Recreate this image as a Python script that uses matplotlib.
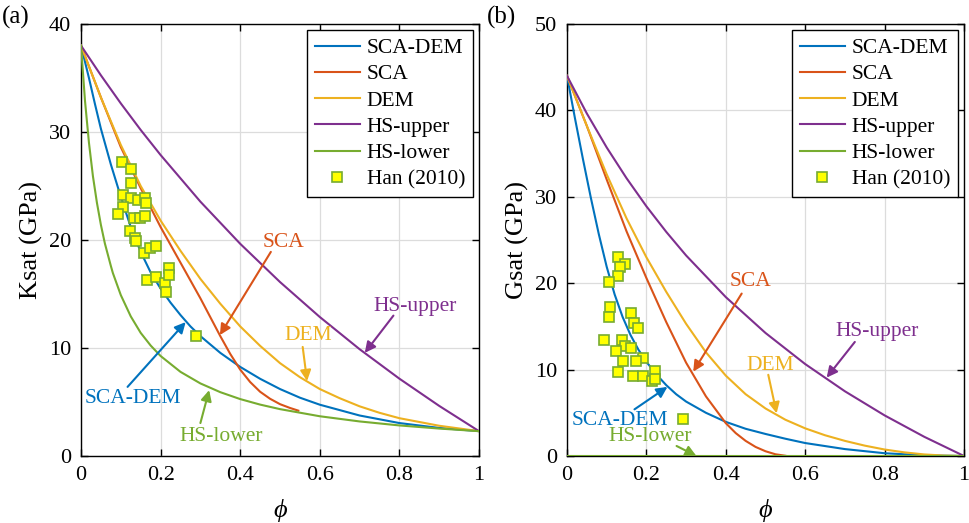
import numpy as np
import matplotlib
matplotlib.use('Agg')
import matplotlib.pyplot as plt

plt.rcParams['font.family'] = ['Liberation Serif', 'DejaVu Serif']
plt.rcParams['mathtext.fontset'] = 'stix'

# colours (MATLAB default order)
C_BLUE = '#0072BD'
C_RED = '#D95319'
C_ORANGE = '#EDB120'
C_PURPLE = '#7E2F8E'
C_GREEN = '#77AC30'

# ---------------- (a) Ksat ----------------
phi_k_scadem = [0, 0.01, 0.02, 0.035, 0.05, 0.075, 0.1, 0.125, 0.15, 0.175, 0.2, 0.225, 0.25, 0.275,
                0.3, 0.35, 0.4, 0.45, 0.5, 0.55, 0.6, 0.7, 0.8, 0.9, 1.0]
k_scadem = [38, 36.5, 35.0, 32.6, 30.3, 27.0, 24.0, 21.2, 18.9, 17.0, 15.5, 14.2, 13.05, 12.0,
            11.1, 9.55, 8.25, 7.15, 6.2, 5.4, 4.75, 3.75, 3.05, 2.6, 2.3]

phi_k_sca = [0, 0.05, 0.1, 0.15, 0.2, 0.25, 0.3, 0.35, 0.375, 0.4, 0.425, 0.45, 0.475, 0.5, 0.525, 0.546]
k_sca = [38, 33.2, 28.6, 24.8, 21.2, 17.9, 14.6, 11.1, 9.45, 8.0, 6.85, 5.95, 5.3, 4.8, 4.45, 4.2]

phi_k_dem = [0, 0.05, 0.1, 0.15, 0.2, 0.25, 0.3, 0.35, 0.4, 0.45, 0.5, 0.55, 0.6, 0.65, 0.7, 0.75,
             0.8, 0.9, 1.0]
k_dem = [38, 33.2, 28.8, 25.0, 21.8, 19.0, 16.4, 14.1, 12.0, 10.2, 8.6, 7.3, 6.2, 5.35, 4.6, 4.0,
         3.5, 2.8, 2.3]

phi_k_hsu = [0, 0.05, 0.1, 0.15, 0.2, 0.3, 0.4, 0.5, 0.6, 0.7, 0.8, 0.9, 1.0]
k_hsu = [38, 35.25, 32.65, 30.19, 27.87, 23.55, 19.65, 16.11, 12.87, 9.89, 7.16, 4.64, 2.3]

phi_k_hsl = [0, 0.01, 0.02, 0.03, 0.04, 0.05, 0.06, 0.075, 0.08, 0.1, 0.125, 0.15, 0.175, 0.2, 0.25,
             0.3, 0.35, 0.4, 0.45, 0.5, 0.6, 0.7, 0.8, 0.9, 1.0]
k_hsl = [38, 32.9, 29.0, 25.9, 23.45, 21.4, 19.68, 17.6, 16.95, 14.9, 12.93, 11.4, 10.23, 9.26, 7.79,
         6.72, 5.91, 5.27, 4.76, 4.34, 3.68, 3.20, 2.83, 2.54, 2.3]

han_phi_k = [0.102, 0.126, 0.126, 0.106, 0.126, 0.144, 0.161, 0.163, 0.106, 0.092, 0.134, 0.148, 0.161,
             0.123, 0.136, 0.138, 0.158, 0.173, 0.188, 0.167, 0.188, 0.211, 0.222, 0.222, 0.214, 0.289]
han_k = [27.25, 26.6, 25.25, 24.2, 23.86, 23.7, 23.86, 23.4, 23.1, 22.4, 22.07, 22.0, 22.2,
         20.8, 20.2, 19.9, 18.8, 19.23, 19.4, 16.3, 16.6, 16.05, 17.4, 16.8, 15.2, 11.1]

# ---------------- (b) Gsat ----------------
phi_g_scadem = [0, 0.02, 0.04, 0.06, 0.08, 0.1, 0.12, 0.14, 0.16, 0.18, 0.2, 0.225, 0.25, 0.275, 0.3,
                0.35, 0.4, 0.45, 0.5, 0.55, 0.6, 0.7, 0.8, 0.9, 1.0]
g_scadem = [44, 39.1, 34.4, 29.9, 25.7, 21.9, 18.7, 16.1, 14.0, 12.3, 10.9, 9.45, 8.2, 7.15, 6.3,
            5.0, 3.95, 3.15, 2.55, 2.0, 1.5, 0.8, 0.32, 0.08, 0]

phi_g_sca = [0, 0.05, 0.1, 0.15, 0.2, 0.25, 0.3, 0.35, 0.4, 0.425, 0.45, 0.475, 0.5, 0.525, 0.55]
g_sca = [44, 38.2, 32.0, 26.0, 20.6, 15.5, 10.8, 6.9, 3.8, 2.65, 1.75, 1.05, 0.55, 0.2, 0.03]

phi_g_dem = [0, 0.05, 0.1, 0.15, 0.2, 0.25, 0.3, 0.35, 0.4, 0.45, 0.5, 0.55, 0.6, 0.65, 0.7, 0.75,
             0.8, 0.85, 0.9, 0.95, 1.0]
g_dem = [44, 38.2, 32.6, 27.5, 23.0, 19.0, 15.3, 12.0, 9.3, 7.15, 5.5, 4.2, 3.2, 2.4, 1.75, 1.2,
         0.75, 0.42, 0.18, 0.05, 0]

phi_g_hsu = [0, 0.05, 0.1, 0.15, 0.2, 0.25, 0.3, 0.4, 0.5, 0.6, 0.7, 0.8, 0.9, 1.0]
g_hsu = [44, 39.64, 35.71, 32.15, 28.90, 25.94, 23.21, 18.39, 14.24, 10.64, 7.49, 4.70, 2.22, 0]

phi_g_hsl = [0, 1.0]
g_hsl = [0, 0]

han_phi_g = [0.128, 0.145, 0.133, 0.128, 0.105, 0.109, 0.107, 0.161, 0.170, 0.178, 0.092, 0.139, 0.147,
             0.161, 0.124, 0.191, 0.174, 0.141, 0.128, 0.166, 0.191, 0.222, 0.214, 0.222, 0.291]
han_g = [23.0, 22.2, 21.9, 20.8, 20.1, 17.2, 16.1, 16.6, 15.4, 14.8, 13.4, 13.4, 12.7,
         12.5, 12.1, 11.4, 11.0, 11.0, 9.76, 9.26, 9.26, 9.88, 8.68, 8.87, 4.25]

labels = ['SCA-DEM', 'SCA', 'DEM', 'HS-upper', 'HS-lower']
colors = [C_BLUE, C_RED, C_ORANGE, C_PURPLE, C_GREEN]
xtick_vals = [0, 0.2, 0.4, 0.6, 0.8, 1.0]
xtick_labels = ['0', '0.2', '0.4', '0.6', '0.8', '1']

# annotation texts: (label, text pos, arrow start, arrow tip)
ann_a = [
    ('SCA', (0.508, 19.8), (0.477, 18.9), (0.349, 11.2)),
    ('DEM', (0.57, 11.2), (0.557, 10.1), (0.568, 6.94)),
    ('HS-upper', (0.839, 13.8), (0.785, 13.0), (0.713, 9.55)),
    ('SCA-DEM', (0.131, 5.35), (0.117, 6.4), (0.263, 12.4)),
    ('HS-lower', (0.352, 1.8), (0.30, 3.05), (0.322, 6.1)),
]
ann_b = [
    ('SCA', (0.461, 20.2), (0.44, 18.8), (0.318, 9.76)),
    ('DEM', (0.511, 10.5), (0.507, 9.4), (0.528, 4.94)),
    ('HS-upper', (0.78, 14.4), (0.725, 13.2), (0.654, 9.07)),
    ('SCA-DEM', (0.133, 4.1), (0.17, 5.4), (0.253, 8.0)),
    ('HS-lower', (0.21, 2.3), (0.276, 1.16), (0.326, 0.0)),
]
ann_colors = {'SCA': C_RED, 'DEM': C_ORANGE, 'HS-upper': C_PURPLE,
              'SCA-DEM': C_BLUE, 'HS-lower': C_GREEN}


def draw_panel(ax, curves, han_x, han_y, ymax, ylabel, anns, tag):
    for (x, y), lbl, c in zip(curves, labels, colors):
        ax.plot(x, y, color=c, lw=1.5, label=lbl, zorder=3, solid_joinstyle='round')
    ax.plot(han_x, han_y, 's', ms=6.8, mfc='#FFFF00', mec=C_GREEN, mew=1.2,
            ls='none', label='Han (2010)', zorder=4)
    for txt, tpos, a0, a1 in anns:
        c = ann_colors[txt]
        ax.annotate('', xy=a1, xytext=a0,
                    arrowprops=dict(arrowstyle='-|>', color=c, lw=1.5,
                                    mutation_scale=16, shrinkA=0, shrinkB=0),
                    zorder=5)
        ax.text(tpos[0], tpos[1], txt, color=c, fontsize=15.5,
                ha='center', va='center', zorder=5)
    ax.set_xlim(0, 1)
    ax.set_ylim(0, ymax)
    ax.set_xticks(xtick_vals)
    ax.set_xticklabels(xtick_labels)
    ax.set_yticks(np.arange(0, ymax + 1, 10))
    ax.tick_params(direction='in', top=True, right=True, labelsize=16,
                   length=5, width=1, pad=7)
    ax.grid(True, color='#dcdcdc', lw=0.9)
    ax.set_axisbelow(True)
    for s in ax.spines.values():
        s.set_linewidth(1.0)
    ax.set_xlabel('ϕ', fontsize=19, style='italic', labelpad=10)
    ax.set_ylabel(ylabel, fontsize=19, labelpad=4)
    leg = ax.legend(loc='upper right', fontsize=15.5, frameon=True, fancybox=False,
                    edgecolor='black', framealpha=1, handlelength=2.1,
                    handletextpad=0.3, labelspacing=0.29, borderaxespad=0.3,
                    borderpad=0.35)
    leg.get_frame().set_linewidth(1.0)
    ax.text(-0.165, 1.015, tag, transform=ax.transAxes, fontsize=18,
            ha='center', va='center')


fig = plt.figure(figsize=(9.69, 5.23), dpi=100)
ax1 = fig.add_axes([81 / 969, 67 / 523, 398 / 969, 432 / 523])
ax2 = fig.add_axes([567 / 969, 67 / 523, 397 / 969, 432 / 523])

curves_a = [(phi_k_scadem, k_scadem), (phi_k_sca, k_sca), (phi_k_dem, k_dem),
            (phi_k_hsu, k_hsu), (phi_k_hsl, k_hsl)]
curves_b = [(phi_g_scadem, g_scadem), (phi_g_sca, g_sca), (phi_g_dem, g_dem),
            (phi_g_hsu, g_hsu), (phi_g_hsl, g_hsl)]

draw_panel(ax1, curves_a, han_phi_k, han_k, 40, 'Ksat (GPa)', ann_a, '(a)')
draw_panel(ax2, curves_b, han_phi_g, han_g, 50, 'Gsat (GPa)', ann_b, '(b)')

fig.savefig('out.png', dpi=100)
